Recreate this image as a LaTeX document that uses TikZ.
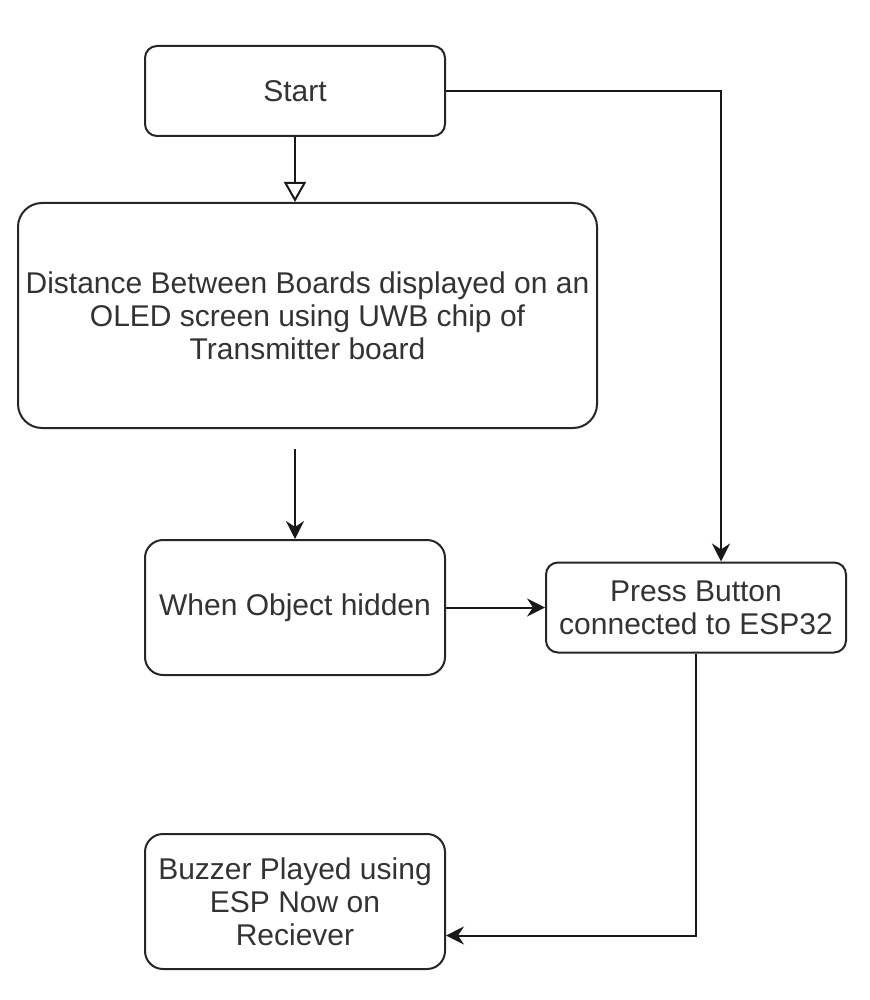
\documentclass[tikz,border=0pt]{standalone}
\usepackage{fontspec}
\setmainfont{Liberation Sans}
\usepackage{xcolor}
\usepackage{tikz}
\usetikzlibrary{arrows.meta, positioning}

\begin{document}
\begin{tikzpicture}[x=0.5pt, y=-0.5pt]
            % Block styles
            \tikzstyle{box} = [rectangle, draw=black!85, line width=1pt, text=black!80, align=center, inner sep=0pt, minimum width=150pt, font=\fontsize{15}{16.5}\selectfont]
            \tikzstyle{arrow} = [draw=black!90, line width=1pt, -{Stealth[length=9pt, width=9pt, inset=3pt]}]
            \tikzstyle{openarrow} = [draw=black!90, line width=1pt, -{Triangle[open, length=10pt, width=11pt]}]
            \useasboundingbox (0,0) rectangle (870,1000);
            % Boxes
            \node[box, minimum height=45pt, rounded corners=6pt] (start) at (295,91) {Start};
            \node[box, minimum width=289.5pt, minimum height=112.5pt, rounded corners=12pt] (distance) at (307.5,315.5) {Distance Between Boards displayed on an\\OLED screen using UWB chip of\\Transmitter board};
            \node[box, minimum height=67.5pt, rounded corners=9pt] (hidden) at (295,607.5) {When Object hidden};
            \node[box, minimum height=45pt, rounded corners=6pt, right=49.5pt of hidden] (button) {Press Button\\connected to ESP32};
            \node[box, minimum height=67.5pt, rounded corners=9pt, below=78.5pt of hidden] (buzzer) {Buzzer Played using\\ESP Now on\\Reciever};
            \coordinate[above=45pt of hidden.north] (gap);
            % Connections
            \draw[openarrow] (start.south) -- (start.south |- distance.north);
            \draw[arrow] (gap) -- (hidden);
            \draw[arrow] (hidden) -- (button);
            \draw[arrow] (start) -| ([xshift=12.5pt]button.north);
            \draw[arrow] (button.south) |- ([yshift=-17pt]buzzer.east);
        \end{tikzpicture}
\end{document}
